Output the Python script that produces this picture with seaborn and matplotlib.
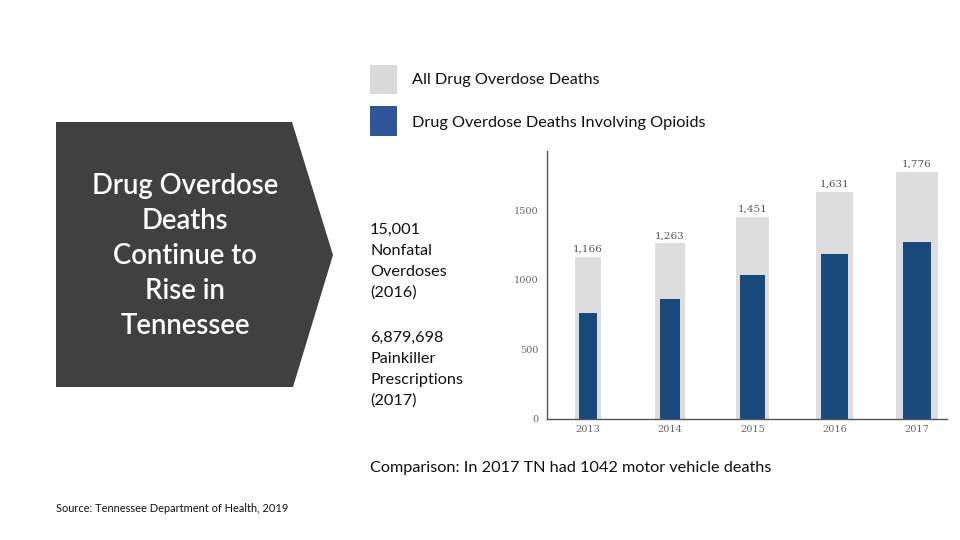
import pandas as pd
import numpy as np
import matplotlib.pyplot as plt
import seaborn as sns
from matplotlib.patches import Polygon, Rectangle

years = ['2013', '2014', '2015', '2016', '2017']
all_deaths = [1166, 1263, 1451, 1631, 1776]
opioid_deaths = [758, 862, 1033, 1186, 1268]

df = pd.DataFrame({'year': years, 'all': all_deaths, 'opioid': opioid_deaths})

sns.set_style('white')
plt.rcParams['font.family'] = ['Lato', 'DejaVu Sans']

W, H = 960, 540
fig = plt.figure(figsize=(9.6, 5.4), dpi=100)

def fx(x):
    return x / W

def fy(y):
    return 1 - y / H

# dark chevron on the left
chev = [(56, 122), (292, 122), (333, 255), (293, 387), (56, 387)]
fig.patches.append(Polygon([(fx(x), fy(y)) for x, y in chev], closed=True,
                           transform=fig.transFigure, facecolor='#404040', edgecolor='none'))
fig.text(fx(185), fy(256), 'Drug Overdose\nDeaths\nContinue to\nRise in\nTennessee',
         ha='center', va='center', multialignment='center', color='white',
         fontsize=19.8, linespacing=1.43, fontweight='semibold')

# legend squares
fig.patches.append(Rectangle((fx(370), fy(94)), fx(27), 29 / H, transform=fig.transFigure,
                             facecolor='#D9D9D9', edgecolor='none'))
fig.patches.append(Rectangle((fx(370), fy(136)), fx(27), 30 / H, transform=fig.transFigure,
                             facecolor='#2F5597', edgecolor='none'))
fig.text(fx(412), fy(80), 'All Drug Overdose Deaths', fontsize=11.7, va='center', color='#111111')
fig.text(fx(412), fy(123), 'Drug Overdose Deaths Involving Opioids', fontsize=11.7, va='center', color='#111111')

# side facts
fig.text(fx(370), fy(261.5), '15,001\nNonfatal\nOverdoses\n(2016)', fontsize=11.7,
         va='center', ha='left', linespacing=1.6, color='#111111')
fig.text(fx(370), fy(369.5), '6,879,698\nPainkiller\nPrescriptions\n(2017)', fontsize=11.7,
         va='center', ha='left', linespacing=1.6, color='#111111')
fig.text(fx(370), fy(468), 'Comparison: In 2017 TN had 1042 motor vehicle deaths', fontsize=11.7,
         va='center', ha='left', color='#111111')
fig.text(fx(56), fy(509), 'Source: Tennessee Department of Health, 2019', fontsize=7.9,
         va='center', ha='left', color='#111111')

# bar chart
ax = fig.add_axes([fx(546.7), fy(419), (947 - 546.7) / W, (419 - 151) / H])
sns.barplot(data=df, x='year', y='all', color='#DDDDDD', saturation=1, ax=ax, width=0.4, linewidth=0)
sns.barplot(data=df, x='year', y='opioid', color='#1A4A7C', saturation=1, ax=ax, width=0.3, linewidth=0)

gray_w = [0.32, 0.36, 0.40, 0.45, 0.50]
blue_w = [0.22, 0.24, 0.30, 0.33, 0.34]
for cont, widths in zip(ax.containers, [gray_w, blue_w]):
    for i, (p, w) in enumerate(zip(cont.patches, widths)):
        p.set_x(i - w / 2)
        p.set_width(w)

ax.bar_label(ax.containers[0], labels=[f'{v:,}' for v in all_deaths], padding=2,
             fontsize=7.5, color='#555555', family='DejaVu Serif')

ax.set_xlim(-0.5, -0.5 + (947 - 546.7) / 82.3)
ax.set_ylim(0, 1924)
ax.set_yticks([0, 500, 1000, 1500])
ax.set_xlabel('')
ax.set_ylabel('')
for s in ['top', 'right']:
    ax.spines[s].set_visible(False)
for s in ['left', 'bottom']:
    ax.spines[s].set_color('#555555')
    ax.spines[s].set_linewidth(1)

ax.set_xticks(np.arange(len(years)) - 0.5, minor=True)
ax.tick_params(axis='x', which='major', length=0, pad=4, labelsize=7, labelcolor='#666666')
ax.tick_params(axis='x', which='minor', length=4, color='#888888', width=0.8, direction='out')
ax.tick_params(axis='y', length=3, color='#888888', width=0.8, direction='out',
               labelsize=7, labelcolor='#666666', pad=3)
for lab in ax.get_xticklabels() + ax.get_yticklabels():
    lab.set_family('DejaVu Serif')

fig.savefig('out.png', dpi=100)
